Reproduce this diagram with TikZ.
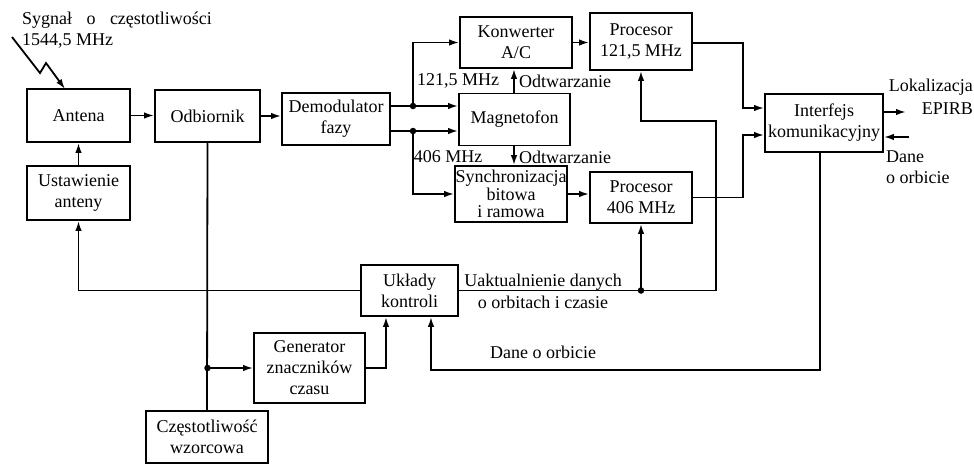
\documentclass[tikz,border=0pt]{standalone}
\usepackage{fontspec}
\setmainfont{Liberation Serif}
\usetikzlibrary{arrows.meta,calc}
\begin{document}
\begin{tikzpicture}[x=1pt,y=-1pt,
  txt/.style={font=\fontsize{18}{21}\selectfont, inner sep=0pt},
  blk/.style={txt, draw, line width=1.8pt, align=center},
  conn/.style={line width=1.8pt},
  arr/.style={conn, -{Latex[length=10pt,width=6.5pt]}},
  jdot/.style={circle, fill, inner sep=0pt, minimum size=6.5pt}]
\useasboundingbox (0,0) rectangle (974,464);

% blocks
\node[blk, minimum width=103pt, minimum height=53pt] (antena) at (78.5,115.5) {Antena};
\node[blk, minimum width=105pt, minimum height=52pt] (odb) at (207.5,116) {Odbiornik};
\node[blk, minimum width=108pt, minimum height=52pt] (demod) at (336,119) {Demodulator\\fazy};
\node[blk, minimum width=112pt, minimum height=51pt] (konw) at (516,42.5) {Konwerter\\A/C};
\node[blk, minimum width=111pt, minimum height=52pt] (magn) at (514.5,119.5) {Magnetofon};
\node[blk, minimum width=112pt, minimum height=56pt, font=\fontsize{18}{17.5}\selectfont] (sync) at (511,194) {Synchronizacja\\bitowa\\i ramowa};
\node[blk, minimum width=102pt, minimum height=57pt] (p121) at (641,41.5) {Procesor\\121,5 MHz};
\node[blk, minimum width=102pt, minimum height=51pt] (p406) at (641,197.5) {Procesor\\406 MHz};
\node[blk, minimum width=118pt, minimum height=58pt] (interf) at (824,123) {Interfejs\\komunikacyjny};
\node[blk, minimum width=103pt, minimum height=54pt] (ust) at (78.5,193) {Ustawienie\\anteny};
\node[blk, minimum width=97pt, minimum height=51pt] (uklady) at (409.5,290.5) {Układy\\kontroli};
\node[blk, minimum width=111pt, minimum height=70pt] (gen) at (309.5,368) {Generator\\znaczników\\czasu};
\node[blk, minimum width=122pt, minimum height=52pt] (czest) at (207,437) {Częstotliwość\\wzorcowa};

% free texts
\node[txt, anchor=west, align=left] (sig) at (22,30.5) {Sygnał\hspace{0.55em} o\hspace{0.55em} częstotliwości\\1544,5 MHz};
\node[txt] (l121) at (458,81) {121,5 MHz};
\node[txt, anchor=west] (odt1) at (519,81) {Odtwarzanie};
\node[txt] (l406) at (448,157) {406 MHz};
\node[txt, anchor=west] (odt2) at (519,157) {Odtwarzanie};
\node[txt, align=center, font=\fontsize{18}{22}\selectfont] (uakt) at (543,291) {Uaktualnienie danych\\o orbitach i czasie};
\node[txt] (dane) at (543,352) {Dane o orbicie};
\node[txt, anchor=east, align=right, font=\fontsize{18}{23}\selectfont] (lok) at (973,96.5) {Lokalizacja\\EPIRB};
\node[txt, anchor=west, align=left] (daneo) at (886,167.5) {Dane\\o orbicie};

% coordinates
\coordinate (s1) at (12,37);
\coordinate (s2) at (40,73);
\coordinate (s3) at (46,63);
\coordinate (s4) at (65,89);
\coordinate (j1) at (207.5,368);
\coordinate (j2) at (413,106);
\coordinate (j3) at (413,131);
\coordinate (j4) at (641,290.5);
\coordinate (bx) at (743,0);
\coordinate (fb1) at (716,121);
\coordinate (b2) at (431,370);
\coordinate (gx) at (386,0);
\coordinate (mx) at (514,0);
\coordinate (out1) at (906,112);
\coordinate (in1) at (909,137);

% signal
\draw[arr] (s1) -- (s2) -- (s3) -- (s4);

% connectors
\draw[arr] (antena.east) -- (antena.east -| odb.west);
\draw[arr] (odb.east) -- (odb.east -| demod.west);
\draw[arr] (ust.north) -- (antena.south);
\draw[arr] (uklady.west) -| (ust.south);
\draw[conn] (odb.south) -- (czest.north);
\draw[arr] (j1) -- (gen.west);
\draw[arr] (gen.east) -| (gx |- uklady.south);

\draw[arr] ([yshift=13pt]demod.east) -- ([yshift=13pt]demod.east -| magn.west);
\draw[arr] ([yshift=-12pt]demod.east) -- ([yshift=-12pt]demod.east -| magn.west);
\draw[arr] (j2) |- (konw.west);
\draw[arr] (j3) |- (sync.west);
\draw[arr] (mx |- magn.north) -- (mx |- konw.south);
\draw[arr] (mx |- magn.south) -- (mx |- sync.north);

\draw[arr] (konw.east) -- (konw.east -| p121.west);
\draw[arr] (sync.east) -- (sync.east -| p406.west);
\draw[arr] (p121.east |- 0,43) -- (bx |- 0,43) |- ([yshift=15pt]interf.west);
\draw[arr] (p406.east) -- (bx |- p406.east) |- ([yshift=-12pt]interf.west);
\draw[arr] ([yshift=11pt]interf.east) -- (out1);
\draw[arr] (in1) -- ([yshift=-14pt]interf.east);

\draw[conn] (uklady.east) -- (j4);
\draw[arr] (j4) -- (p406.south);
\draw[arr] (j4) -| (fb1) -| (p121.south);
\draw[arr] ([xshift=-4pt]interf.south) |- (b2) -- (b2 |- uklady.south);

% junction dots
\node[jdot] at (j1) {};
\node[jdot] at (j2) {};
\node[jdot] at (j3) {};
\node[jdot] at (j4) {};
\end{tikzpicture}
\end{document}
